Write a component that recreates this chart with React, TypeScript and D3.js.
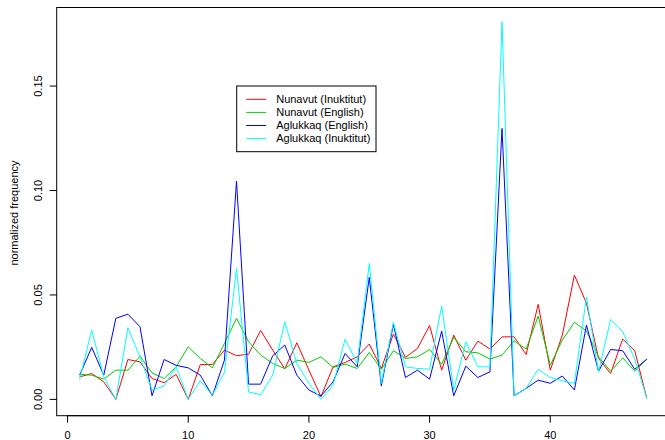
import React from "react";
import * as d3 from "d3";

const index = d3.range(1, 49);

const nunavutInuktitut = [
  0.0108, 0.0124, 0.0084, 0.0, 0.0191, 0.018, 0.01, 0.008, 0.012, 0.0, 0.0167, 0.0167,
  0.0236, 0.0209, 0.0217, 0.033, 0.0236, 0.0146, 0.0271, 0.014, 0.0013, 0.0156, 0.0177, 0.0204,
  0.0265, 0.0148, 0.0313, 0.0201, 0.0244, 0.0354, 0.014, 0.0308, 0.0188, 0.0279, 0.0241, 0.0299,
  0.03, 0.0215, 0.0455, 0.014, 0.0308, 0.0595, 0.046, 0.0196, 0.0124, 0.0289, 0.0233, 0.0005,
];
const nunavutEnglish = [
  0.012, 0.0116, 0.0097, 0.014, 0.014, 0.0206, 0.0127, 0.01, 0.0156, 0.0252, 0.0196, 0.0151,
  0.0268, 0.0388, 0.0276, 0.0212, 0.0172, 0.0148, 0.0188, 0.0177, 0.0204, 0.0153, 0.0169, 0.0148,
  0.0225, 0.0144, 0.0233, 0.0196, 0.0204, 0.0239, 0.0169, 0.0297, 0.0228, 0.0223, 0.0193, 0.0212,
  0.0281, 0.0241, 0.0399, 0.0164, 0.0284, 0.0369, 0.0327, 0.0204, 0.0135, 0.0199, 0.0135, 0.0193,
];
const aglukkaqEnglish = [
  0.0116, 0.0249, 0.0116, 0.0388, 0.0408, 0.0348, 0.0017, 0.0191, 0.0163, 0.0151, 0.0116, 0.0017,
  0.0188, 0.1045, 0.0073, 0.0073, 0.0209, 0.026, 0.0116, 0.0045, 0.0016, 0.0084, 0.022, 0.0156,
  0.0584, 0.0065, 0.0359, 0.0105, 0.014, 0.0097, 0.0327, 0.0017, 0.0159, 0.0105, 0.0132, 0.1297,
  0.0017, 0.0053, 0.0092, 0.0077, 0.0112, 0.0045, 0.0356, 0.0135, 0.0239, 0.0233, 0.0144, 0.0193,
];
const aglukkaqInuktitut = [
  0.0096, 0.0332, 0.0108, 0.0, 0.0343, 0.0204, 0.0045, 0.0064, 0.0156, 0.0, 0.009, 0.002,
  0.0129, 0.0627, 0.0036, 0.0022, 0.0116, 0.0372, 0.0172, 0.0077, 0.0, 0.0068, 0.0289, 0.0172,
  0.0651, 0.0077, 0.0369, 0.0156, 0.0148, 0.0145, 0.0448, 0.0045, 0.0276, 0.0156, 0.0156, 0.1808,
  0.0017, 0.0053, 0.0144, 0.0105, 0.0089, 0.0077, 0.0491, 0.0132, 0.0383, 0.0324, 0.0193, 0.0005,
];

const seriesNames = ["Nunavut (Inuktitut)", "Nunavut (English)", "Aglukkaq (English)", "Aglukkaq (Inuktitut)"];
const seriesColors = ["#ff0000", "#00cd00", "#0000ff", "#00ffff"];
const seriesValues = [nunavutInuktitut, nunavutEnglish, aglukkaqEnglish, aglukkaqInuktitut];

const xTicks = [0, 10, 20, 30, 40];
const yTicks = [0, 0.05, 0.1, 0.15];

const width = 665;
const height = 440;
const font = "'Liberation Sans', Arial, Helvetica, sans-serif";

export default function App() {
  const box = { left: 56.7, top: 7.5, right: 669.5, bottom: 415.7 };
  const x = d3.scaleLinear().domain([-0.9, 49.88]).range([box.left, box.right]);
  const y = d3.scaleLinear().domain([-0.0078, 0.1876]).range([box.bottom, box.top]);

  const line = d3
    .line<number>()
    .x((d, i) => x(index[i]))
    .y((d) => y(d));

  const legend = { x: 236.7, y: 86, w: 139.3, h: 65.7 };

  return (
    <svg
      width={width}
      height={height}
      style={{ position: "absolute", left: 0, top: 0, background: "#fff" }}
      fontFamily={font}
    >
      {seriesValues.map((vals, k) => (
        <path key={k} d={line(vals) || ""} fill="none" stroke={seriesColors[k]} strokeWidth={1} />
      ))}

      <rect
        x={box.left}
        y={box.top}
        width={box.right - box.left}
        height={box.bottom - box.top}
        fill="none"
        stroke="#000"
        strokeWidth={1}
      />

      {/* x axis */}
      <line x1={x(0)} x2={x(40)} y1={box.bottom} y2={box.bottom} stroke="#000" />
      {xTicks.map((t) => (
        <g key={t}>
          <line x1={x(t)} x2={x(t)} y1={box.bottom} y2={box.bottom + 7} stroke="#000" />
          <text x={x(t)} y={439} fontSize={11} textAnchor="middle">
            {t}
          </text>
        </g>
      ))}

      {/* y axis */}
      {yTicks.map((t) => (
        <g key={t}>
          <line x1={box.left - 7} x2={box.left} y1={y(t)} y2={y(t)} stroke="#000" />
          <text
            transform={`translate(42,${y(t)}) rotate(-90)`}
            fontSize={11}
            textAnchor="middle"
          >
            {t.toFixed(2)}
          </text>
        </g>
      ))}
      <text transform={`translate(18,213) rotate(-90)`} fontSize={11} textAnchor="middle">
        normalized frequency
      </text>

      {/* legend */}
      <rect x={legend.x} y={legend.y} width={legend.w} height={legend.h} fill="#fff" stroke="#000" />
      {seriesNames.map((name, k) => {
        const ry = legend.y + 13.3 + k * 13.1;
        return (
          <g key={name}>
            <line x1={legend.x + 9.5} x2={legend.x + 29.5} y1={ry} y2={ry} stroke={seriesColors[k]} />
            <text x={legend.x + 39.5} y={ry} dy="0.35em" fontSize={11}>
              {name}
            </text>
          </g>
        );
      })}
    </svg>
  );
}
